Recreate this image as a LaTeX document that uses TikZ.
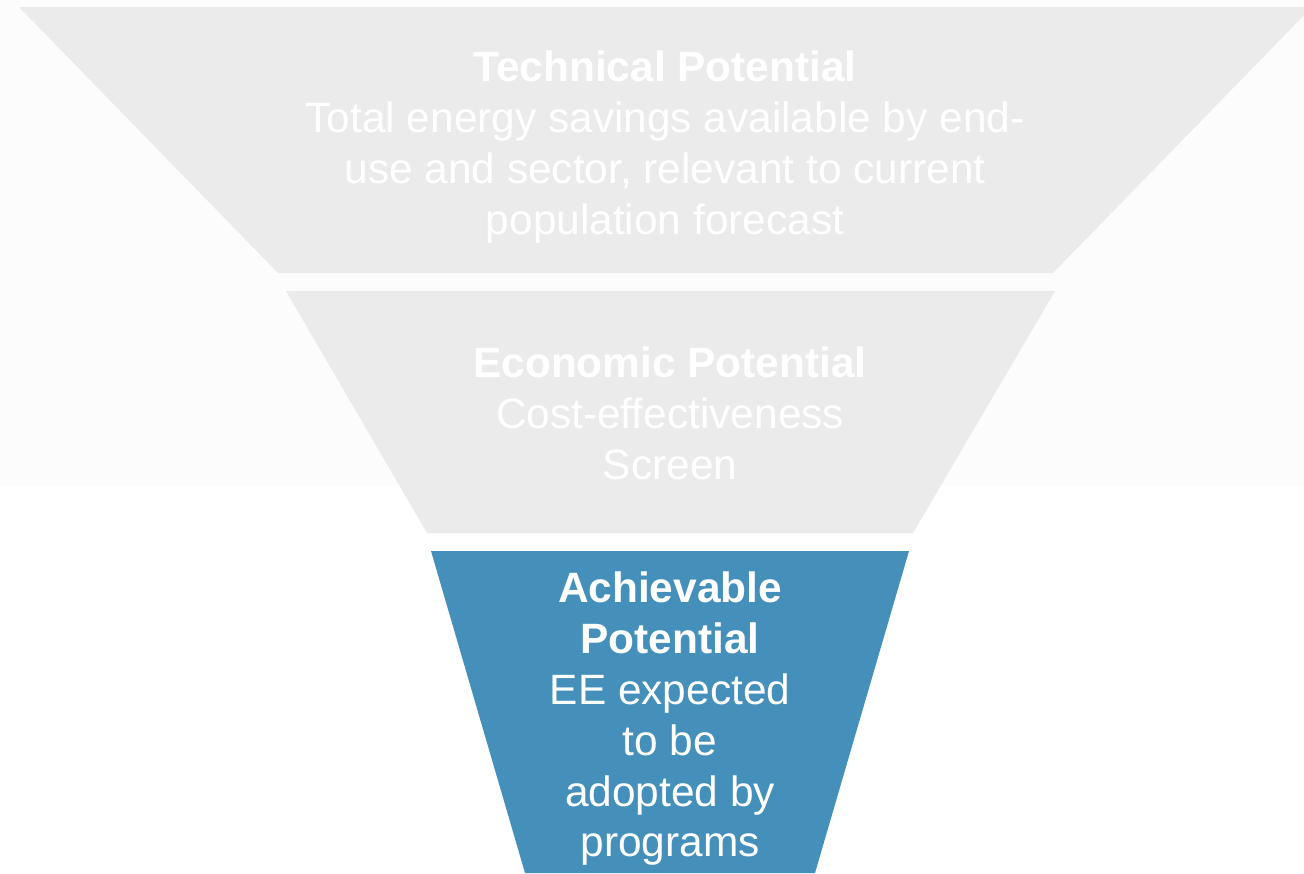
\documentclass[tikz,border=0pt]{standalone}
\usepackage{fontspec}
\setmainfont{Liberation Sans}
\definecolor{funnelgray}{HTML}{EBEBEB}
\definecolor{funnelblue}{HTML}{4590BA}
\definecolor{bgfaint}{HTML}{FCFCFC}
\begin{document}
\begin{tikzpicture}[x=1pt,y=-1pt,
  stage/.style={draw=none},
  lbl/.style={text=white,align=center,inner sep=0pt,font=\fontsize{42.4}{50.8}\selectfont}]
\useasboundingbox (0,0) rectangle (1304,873);
\fill[white] (0,0) rectangle (1304,873);
\fill[bgfaint] (0,0) rectangle (1304,485);
% stages
\fill[funnelgray,stage] (19,7) -- (1312,7) -- (1053,273) -- (278,273) -- cycle;
\fill[funnelgray,stage] (286,291) -- (1055,291) -- (913,533) -- (427,533) -- cycle;
\fill[funnelblue,stage] (431,551) -- (909,551) -- (815,873) -- (525,873) -- cycle;
% labels
\node[lbl,anchor=north] (tech) at (665,51) {\textbf{Technical Potential}\\Total energy savings available by end-\\use and sector, relevant to current\\population forecast};
\node[lbl,anchor=north] (econ) at (670,347) {\textbf{Economic Potential}\\Cost-effectiveness\\Screen};
\node[lbl,anchor=north] (achv) at (670,572) {\textbf{Achievable}\\\textbf{Potential}\\EE expected\\to be\\adopted by\\programs};
\end{tikzpicture}
\end{document}
